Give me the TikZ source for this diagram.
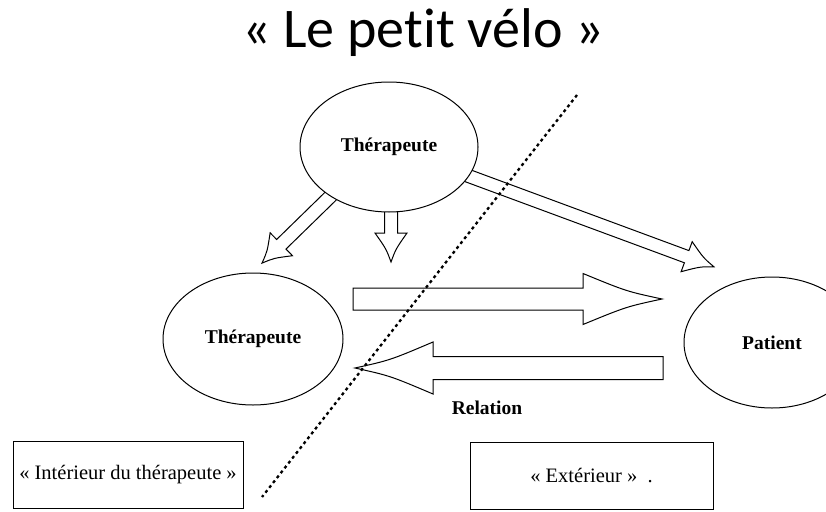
\documentclass[tikz,border=0pt]{standalone}
\usepackage{fontspec}
\setmainfont{Liberation Serif}
\newfontfamily\titlefont[Ligatures=NoCommon]{Carlito}
\usetikzlibrary{shapes.geometric}

\begin{document}
\begin{tikzpicture}[x=1pt, y=-1pt,
	bolha/.style={draw, ellipse, line width=1pt, fill=white, inner sep=0pt, font=\fontsize{19.5}{22}\selectfont\bfseries},
	caixa/.style={draw, rectangle, line width=1pt, minimum width=230pt, minimum height=67pt, inner sep=0pt, font=\fontsize{20.5}{24}\selectfont},
	seta/.style={draw, line width=1pt, fill=white, line join=miter}]
	\useasboundingbox (0,0) rectangle (826,511);
	\clip (0,0) rectangle (826,511);
	
	% Seta larga: origem, angulo, comprimento, meia largura, meia largura da ponta, comprimento da ponta
	\def\seta#1#2#3#4#5#6{
		\path[seta, shift={(#1)}, rotate=#2] (0,-#4) -- ({#3-#6},-#4) -- ({#3-#6},-#5)
			.. controls ({#3-0.45*#6},{-0.3*#5}) .. (#3,0)
			.. controls ({#3-0.45*#6},{0.3*#5}) .. ({#3-#6},#5) -- ({#3-#6},#4) -- (0,#4) -- cycle;
	}
	
	% Origens das setas
	\coordinate (origemPaciente) at (455,171);
	\coordinate (origemDiagonal) at (340,187);
	\coordinate (origemBaixo) at (391,205);
	\coordinate (origemIda) at (353,299);
	\coordinate (origemVolta) at (663,368);
	
	\seta{origemPaciente}{-20.3}{276}{6.5}{16}{29}
	\seta{origemDiagonal}{-135.7}{109}{6.7}{16}{27}
	\seta{origemBaixo}{-90}{57}{6.5}{16}{29}
	\seta{origemIda}{0}{309}{11}{25.5}{79}
	\seta{origemVolta}{180}{308}{11.5}{26}{78}
	
	% Elipses
	\node[bolha, minimum width=178pt, minimum height=130pt] (terapeutaTopo) at (389,147) {Thérapeute};
	\node[bolha, minimum width=180pt, minimum height=132pt] (terapeuta) at (253,339) {Thérapeute};
	\node[bolha, minimum width=176pt, minimum height=131pt] (paciente) at (772,342.5) {Patient};
	
	% Linha pontilhada
	\coordinate (fronteiraA) at (577,95);
	\coordinate (fronteiraB) at (262,497);
	\draw[line width=2.3pt, dash pattern=on 3pt off 3.2pt] (fronteiraA) -- (fronteiraB);
	
	% Rótulos
	\node[font=\titlefont\fontsize{56}{64}\selectfont, anchor=base] (titulo) at (423,48) {« Le petit vélo »};
	\node[font=\fontsize{19.5}{22}\selectfont\bfseries, anchor=base] (relacao) at (487,414) {Relation};
	
	\node[caixa] (interieur) at (128,475) {«~Intérieur du thérapeute~»};
	\node[caixa, minimum width=243pt] (exterieur) at (591.5,476) {«~Extérieur~»\ \ .};
\end{tikzpicture}
\end{document}
